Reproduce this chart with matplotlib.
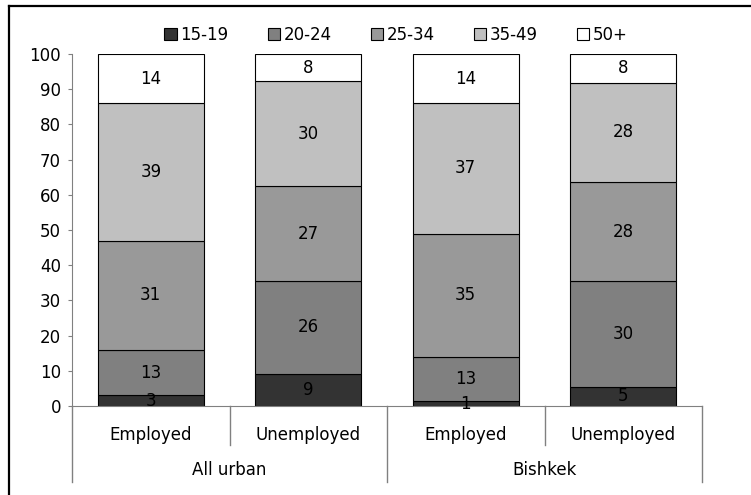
import matplotlib.pyplot as plt
from matplotlib.lines import Line2D
from matplotlib.patches import Patch

plt.rcParams['font.family'] = ['DejaVu Sans']

# data (shares, %)
groups = ["All urban", "Bishkek"]
status = ["Employed", "Unemployed", "Employed", "Unemployed"]
age_bands = ["15-19", "20-24", "25-34", "35-49", "50+"]
age_15_19 = [3.0, 9.2, 1.4, 5.4]
age_20_24 = [13.0, 26.3, 12.6, 30.1]
age_25_34 = [31.0, 27.0, 35.0, 28.0]
age_35_49 = [39.0, 29.7, 37.0, 28.4]
age_50p = [14.0, 7.8, 14.0, 8.1]
band_colors = ["#333333", "#808080", "#999999", "#c0c0c0", "#ffffff"]

series = [age_15_19, age_20_24, age_25_34, age_35_49, age_50p]
fs = 12

fig = plt.figure(figsize=(7.51, 4.95), dpi=100)
ax = fig.add_axes([72 / 751, 1 - 406 / 495, 630 / 751, 352 / 495])

x = list(range(len(status)))
bottom = [0.0] * len(status)
for vals, col, name in zip(series, band_colors, age_bands):
    ax.bar(x, vals, bottom=bottom, width=0.67, color=col,
           edgecolor="black", linewidth=0.8, label=name, zorder=2)
    for xi, v, b in zip(x, vals, bottom):
        ax.text(xi, b + v / 2, f"{round(v):d}", ha="center", va="center",
                fontsize=fs, color="black", zorder=3)
    bottom = [b + v for b, v in zip(bottom, vals)]

ax.set_xlim(-0.5, 3.5)
ax.set_ylim(0, 100)
ax.set_yticks(range(0, 101, 10))
ax.tick_params(axis="y", direction="out", length=3, color="#808080",
               labelsize=fs, pad=5)
ax.set_xticks([])
for s in ["top", "right"]:
    ax.spines[s].set_visible(False)
ax.spines["left"].set_color("#808080")
ax.spines["bottom"].set_color("#808080")

# two-level category axis
tr = ax.get_xaxis_transform()
for xi, lab in zip(x, status):
    ax.text(xi, -0.082, lab, transform=tr, ha="center", va="center",
            fontsize=fs)
for gi, g in enumerate(groups):
    ax.text(gi * 2 + 0.5, -0.182, g, transform=tr, ha="center",
            va="center", fontsize=fs)
for xd, ylow in [(-0.5, -0.216), (0.5, -0.111), (1.5, -0.216),
                 (2.5, -0.111), (3.5, -0.216)]:
    ax.add_line(Line2D([xd, xd], [0, ylow], transform=tr, color="#808080",
                       linewidth=1, clip_on=False))

handles = [Patch(facecolor=c, edgecolor="black", linewidth=0.8)
           for c in band_colors]
fig.legend(handles, age_bands, loc="center", ncol=5,
           bbox_to_anchor=(396 / 751, 1 - 35 / 495), frameon=False,
           fontsize=fs, handlelength=0.75, handleheight=0.75,
           handletextpad=0.2, columnspacing=2.35, borderpad=0.2)

# partial frame (top and left edges only)
fig.add_artist(Line2D([9 / 751, 1], [1 - 6 / 495, 1 - 6 / 495],
                      transform=fig.transFigure, color="black", linewidth=1.6))
fig.add_artist(Line2D([9 / 751, 9 / 751], [0, 1 - 6 / 495],
                      transform=fig.transFigure, color="black", linewidth=1.6))

fig.savefig("out.png", dpi=100)
